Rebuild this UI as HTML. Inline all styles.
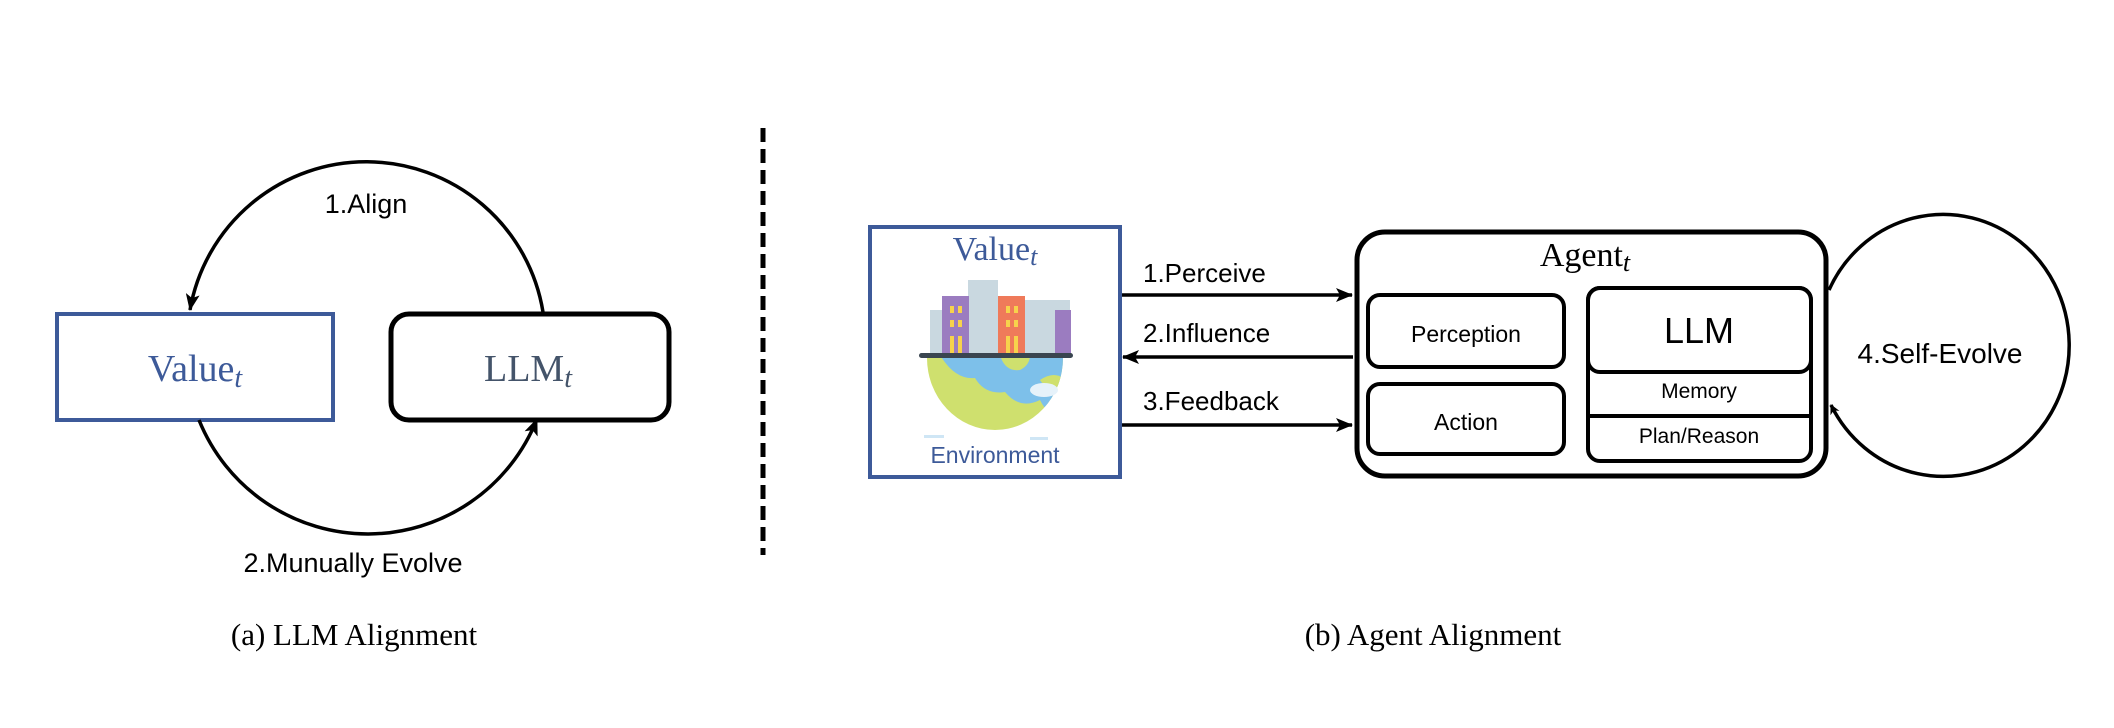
<!DOCTYPE html>
<html><head><meta charset="utf-8"><style>
html,body{margin:0;padding:0;background:#fff;}
svg{display:block}
.s{font-family:"Liberation Sans",Arial,sans-serif;}
.r{font-family:"Liberation Serif","DejaVu Serif",serif;}
</style></head><body>
<svg width="2114" height="728" viewBox="0 0 2114 728" xmlns="http://www.w3.org/2000/svg">
<defs>
<marker id="ah" markerWidth="10" markerHeight="10" refX="9" refY="5" orient="auto" markerUnits="userSpaceOnUse">
<path d="M0,0 L10,5 L0,10 L3,5 z" fill="#000"/>
</marker>
<marker id="ah2" markerWidth="18" markerHeight="14" refX="16" refY="7" orient="auto" markerUnits="userSpaceOnUse">
<path d="M0,0 L17,7 L0,14 L4,7 z" fill="#000"/>
</marker>
<clipPath id="gc"><path d="M927,358 A68,72 0 0 0 1063,358 Z"/></clipPath>
</defs>
<!-- (a) -->
<rect x="57" y="314" width="276" height="106" fill="none" stroke="#3d5a99" stroke-width="4"/>
<text x="195" y="381" text-anchor="middle" class="r" font-size="38" fill="#3d5a99">Value<tspan font-style="italic" font-size="28" dy="6">t</tspan></text>
<rect x="391" y="314" width="278" height="106" rx="18" fill="none" stroke="#000" stroke-width="5"/>
<text x="528" y="381" text-anchor="middle" class="r" font-size="38" fill="#44546a">LLM<tspan font-style="italic" font-size="28" dy="6">t</tspan></text>
<path d="M543,312 A179,179 0 0 0 190,310" fill="none" stroke="#000" stroke-width="3.5" marker-end="url(#ah2)"/>
<text x="366" y="213" text-anchor="middle" class="s" font-size="27">1.Align</text>
<path d="M199,420 A182,182 0 0 0 537,419" fill="none" stroke="#000" stroke-width="3.5" marker-end="url(#ah2)"/>
<text x="353" y="572" text-anchor="middle" class="s" font-size="27">2.Munually Evolve</text>
<text x="354" y="645" text-anchor="middle" class="r" font-size="31">(a) LLM Alignment</text>
<!-- dashed -->
<line x1="763" y1="128" x2="763" y2="555" stroke="#000" stroke-width="5" stroke-dasharray="14,7"/>
<!-- (b) env -->
<rect x="870" y="227" width="250" height="250" fill="none" stroke="#3d5a99" stroke-width="4"/>
<text x="995" y="260" text-anchor="middle" class="r" font-size="34" fill="#3d5a99">Value<tspan font-style="italic" font-size="26" dy="5">t</tspan></text>
<!-- buildings -->
<rect x="930" y="310" width="20" height="45" fill="#c9d8e0"/>
<rect x="968" y="280" width="30" height="75" fill="#c9d8e0"/>
<rect x="1025" y="300" width="45" height="55" fill="#c9d8e0"/>
<rect x="942" y="296" width="27" height="59" fill="#9b7cc0"/>
<rect x="998" y="296" width="27" height="59" fill="#ef7a5a"/>
<rect x="1055" y="310" width="16" height="45" fill="#9b7cc0"/>
<g fill="#f7d24c"><rect x="950" y="306" width="4" height="7"/><rect x="958" y="306" width="4" height="7"/><rect x="950" y="320" width="4" height="7"/><rect x="958" y="320" width="4" height="7"/><rect x="950" y="336" width="4" height="17"/><rect x="958" y="336" width="4" height="17"/>
<rect x="1006" y="306" width="4" height="7"/><rect x="1014" y="306" width="4" height="7"/><rect x="1006" y="320" width="4" height="7"/><rect x="1014" y="320" width="4" height="7"/><rect x="1006" y="336" width="4" height="17"/><rect x="1014" y="336" width="4" height="17"/></g>
<g clip-path="url(#gc)">
<rect x="920" y="350" width="150" height="90" fill="#cfe06e"/>
<path d="M940,355 Q955,380 975,378 Q985,395 1005,392 Q1020,410 1040,400 Q1050,420 1065,415 L1070,350 Z" fill="#7dc0ea"/>
<path d="M1000,355 Q1005,372 1020,370 Q1030,365 1030,355 Z" fill="#cfe06e"/>
<path d="M1040,380 Q1055,370 1065,380 L1065,395 Q1050,395 1040,380 Z" fill="#cfe06e"/>
</g>
<rect x="919" y="353" width="154" height="5" rx="2.5" fill="#3a4550"/>
<ellipse cx="1044" cy="390" rx="14" ry="7" fill="#e6f2fa"/>
<rect x="924" y="435" width="20" height="3" fill="#cfe6f5"/><rect x="1030" y="437" width="18" height="3" fill="#cfe6f5"/>
<text x="995" y="463" text-anchor="middle" class="s" font-size="23" fill="#3d5a99">Environment</text>
<!-- arrows -->
<line x1="1122" y1="295" x2="1352" y2="295" stroke="#000" stroke-width="3.5" marker-end="url(#ah2)"/>
<line x1="1353" y1="357" x2="1123" y2="357" stroke="#000" stroke-width="3.5" marker-end="url(#ah2)"/>
<line x1="1122" y1="425" x2="1352" y2="425" stroke="#000" stroke-width="3.5" marker-end="url(#ah2)"/>
<text x="1143" y="282" class="s" font-size="26">1.Perceive</text>
<text x="1143" y="342" class="s" font-size="26">2.Influence</text>
<text x="1143" y="410" class="s" font-size="26">3.Feedback</text>
<!-- agent -->
<rect x="1357" y="232" width="469" height="244" rx="28" fill="none" stroke="#000" stroke-width="5"/>
<text x="1585" y="266" text-anchor="middle" class="r" font-size="34">Agent<tspan font-style="italic" font-size="26" dy="5">t</tspan></text>
<rect x="1368" y="295" width="196" height="72" rx="12" fill="none" stroke="#000" stroke-width="4"/>
<text x="1466" y="342" text-anchor="middle" class="s" font-size="23">Perception</text>
<rect x="1368" y="384" width="196" height="70" rx="12" fill="none" stroke="#000" stroke-width="4"/>
<text x="1466" y="430" text-anchor="middle" class="s" font-size="23">Action</text>
<rect x="1588" y="288" width="223" height="173" rx="12" fill="none" stroke="#000" stroke-width="4"/>
<rect x="1588" y="288" width="223" height="84" rx="12" fill="none" stroke="#000" stroke-width="4"/>
<line x1="1590" y1="416" x2="1809" y2="416" stroke="#000" stroke-width="4"/>
<text x="1699" y="343" text-anchor="middle" class="s" font-size="36">LLM</text>
<text x="1699" y="398" text-anchor="middle" class="s" font-size="21">Memory</text>
<text x="1699" y="443" text-anchor="middle" class="s" font-size="21">Plan/Reason</text>
<!-- self-evolve -->
<path d="M1829,290 A126,131 0 1 1 1831,405" fill="none" stroke="#000" stroke-width="3.5" marker-end="url(#ah)"/>
<text x="1940" y="363" text-anchor="middle" class="s" font-size="28">4.Self-Evolve</text>
<text x="1433" y="645" text-anchor="middle" class="r" font-size="31">(b) Agent Alignment</text>
</svg>
</body></html>
